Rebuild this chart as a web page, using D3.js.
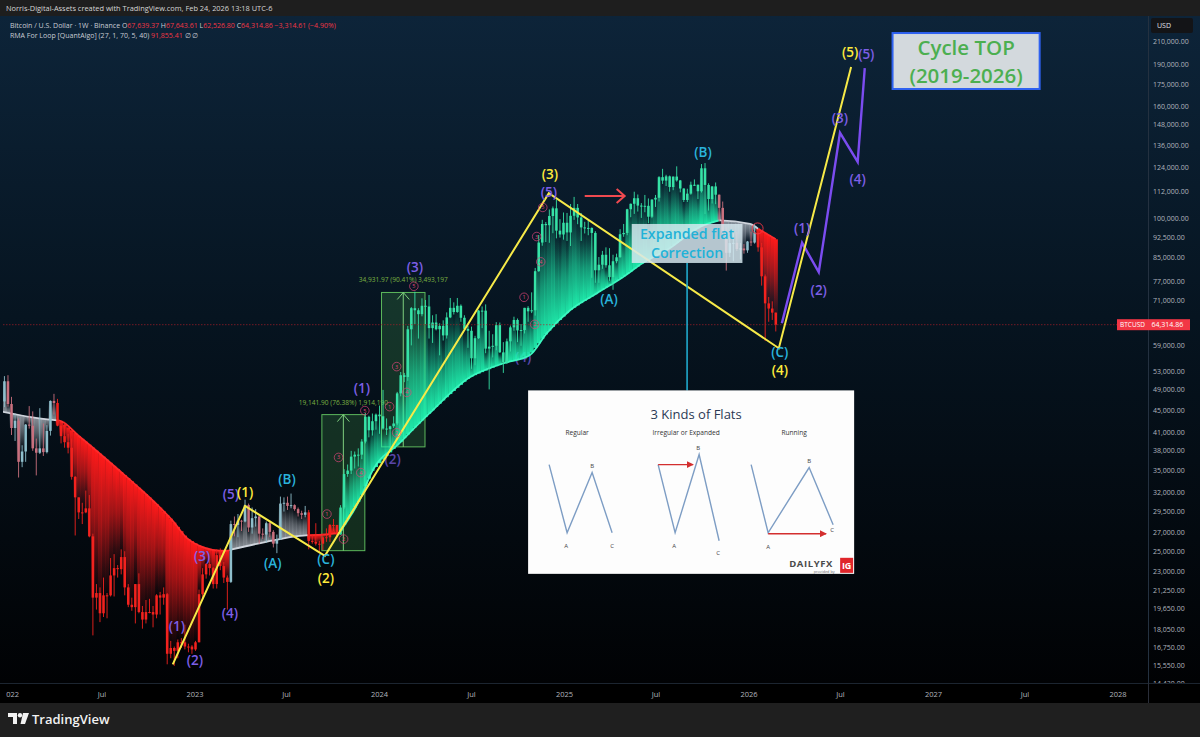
<!DOCTYPE html>
<html><head><meta charset="utf-8">
<script src="https://cdn.jsdelivr.net/npm/d3@7"></script>
<style>
html,body{margin:0;padding:0;background:#1e1e1e;overflow:hidden;}
svg{display:block;}
text{font-family:"Open Sans","Noto Sans",sans-serif;}
</style></head><body>
<svg id="c" width="1200" height="737"></svg>
<script>
// ================= DATA =================
const firstWeek = "2021-12-13"; // Monday of the first weekly candle
// weekly candles, thousands of USD: [open, high, low, close]
const weeklyOHLC = [
[50.1,50.5,45.5,46.7],[46.7,51.9,45.6,50.8],[50.8,52.1,45.7,46.2],
[46.2,47.6,40.6,41.8],[41.8,44.4,39.6,43.1],[43.1,43.5,34.0,36.3],[36.3,38.9,35.5,37.9],[37.9,42.5,36.3,42.4],
[42.4,45.8,41.7,42.2],[42.2,44.8,38.0,38.4],[38.4,40.0,34.3,37.7],[37.7,45.4,37.5,38.4],[38.4,42.6,37.2,37.8],
[37.8,42.3,37.6,41.3],[41.3,46.9,40.5,46.8],[46.8,48.2,44.2,46.4],[46.4,47.2,42.1,42.2],[42.2,42.4,39.2,40.4],
[40.4,42.9,38.5,39.4],[39.4,40.8,37.6,38.5],[38.5,40.0,33.7,34.1],[34.1,34.2,26.7,31.3],[31.3,31.3,28.6,29.4],
[29.4,30.6,28.0,29.4],[29.4,32.2,29.3,29.9],[29.9,31.6,26.5,26.6],[26.6,26.9,17.6,20.6],[20.6,21.8,19.6,21.0],
[21.0,21.5,18.6,19.3],[19.3,22.4,19.0,20.8],[20.8,21.0,18.9,20.8],[20.8,24.3,20.7,22.6],[22.6,24.7,20.7,23.3],
[23.3,23.6,22.4,23.2],[23.2,25.2,22.7,24.4],[24.4,25.0,20.8,21.5],[21.5,21.8,19.8,20.0],[20.0,20.6,19.5,19.8],
[19.8,21.8,18.5,21.8],[21.8,22.8,19.3,19.4],[19.4,19.9,18.1,18.8],[18.8,20.4,18.5,19.4],[19.4,20.5,19.3,19.4],
[19.4,19.9,18.2,19.2],[19.2,20.9,18.9,20.8],[20.8,21.1,19.2,20.6],[20.6,21.5,20.0,20.9],[20.9,21.0,15.6,16.3],
[16.3,17.2,16.0,16.7],[16.7,16.8,15.5,16.5],[16.5,17.3,16.0,17.1],[17.1,17.4,16.7,17.1],[17.1,18.4,16.6,16.8],
[16.8,17.0,16.4,16.8],[16.8,16.9,16.3,16.6],
[16.6,17.2,16.5,17.1],[17.1,21.3,17.1,20.9],[20.9,23.3,20.4,22.7],[22.7,23.8,22.3,23.7],[23.7,24.2,22.6,23.3],
[23.3,23.4,21.4,21.8],[21.8,25.2,21.4,24.6],[24.6,25.3,23.1,23.5],[23.5,23.9,21.9,22.4],[22.4,22.6,19.6,22.0],
[22.0,28.4,21.9,28.0],[28.0,28.9,26.6,27.9],[27.9,29.2,26.5,28.4],[28.4,28.5,27.2,28.3],[28.3,31.0,28.2,30.3],
[30.3,30.5,27.1,27.6],[27.6,30.0,26.9,28.7],[28.7,29.8,27.7,28.9],[28.9,29.1,25.8,26.9],[26.9,27.5,26.3,26.8],
[26.8,28.3,25.9,28.1],[28.1,28.4,26.5,27.1],[27.1,27.3,25.4,25.8],[25.8,26.8,24.8,26.3],[26.3,31.4,26.2,30.5],
[30.5,31.3,29.5,30.6],[30.6,31.4,29.7,30.2],[30.2,31.8,29.9,30.3],[30.3,30.4,29.6,29.8],[29.8,30.0,28.9,29.3],
[29.3,29.6,28.6,29.1],[29.1,30.2,28.8,29.4],[29.4,29.7,25.2,26.1],[26.1,26.8,25.8,26.0],[26.0,28.1,25.6,25.8],
[25.8,26.1,24.9,25.8],[25.8,26.9,25.1,26.5],[26.5,27.5,26.0,26.5],[26.5,28.0,26.0,27.9],[27.9,28.6,27.2,27.9],
[27.9,27.9,26.5,26.8],[26.8,30.3,26.8,30.0],[30.0,35.2,29.8,34.5],[34.5,35.9,34.1,35.0],[35.0,38.0,34.5,37.1],
[37.1,37.9,35.3,37.4],[37.4,38.4,35.6,37.4],[37.4,39.9,36.7,39.5],[39.5,44.5,39.2,43.8],[43.8,44.0,40.2,41.4],
[41.4,44.4,40.5,43.0],[43.0,44.4,41.5,44.2],
[44.2,45.9,40.8,43.9],[43.9,49.0,41.5,41.7],[41.7,43.5,40.6,41.6],[41.6,42.2,38.5,42.1],[42.1,43.9,41.8,42.6],
[42.6,48.6,42.3,48.3],[48.3,52.8,47.7,52.1],[52.1,52.6,50.6,51.7],[51.7,64.0,50.9,63.1],[63.1,69.2,59.0,68.9],
[68.9,73.8,64.5,68.3],[68.3,68.9,60.7,67.2],[67.2,71.8,66.6,69.6],[69.6,71.3,64.5,69.4],[69.4,72.8,60.7,63.4],
[63.4,66.9,59.6,64.9],[64.9,67.2,62.8,63.1],[63.1,64.7,56.6,64.0],[64.0,65.5,60.2,61.5],[61.5,67.7,60.7,66.3],
[66.3,71.9,66.1,69.0],[69.0,70.6,67.1,67.8],[67.8,71.9,67.6,69.6],[69.6,70.0,65.1,66.2],[66.2,66.9,63.0,63.2],
[63.2,64.0,58.4,62.7],[62.7,63.8,53.5,55.9],[55.9,61.4,54.3,60.8],[60.8,68.4,60.6,68.2],[68.2,69.4,63.4,68.2],
[68.2,70.0,57.1,58.2],[58.2,62.7,49.1,58.7],[58.7,61.8,56.1,58.9],[58.9,65.0,57.8,64.2],[64.2,64.9,57.2,57.3],
[57.3,59.8,52.6,54.9],[54.9,60.7,54.6,60.0],[60.0,64.1,57.5,63.6],[63.6,66.5,62.7,65.6],[65.6,66.0,59.8,62.8],
[62.8,64.5,58.9,62.9],[62.9,69.0,62.0,69.0],[69.0,69.5,65.1,68.0],[68.0,73.6,67.5,68.3],[68.3,81.5,66.8,80.4],
[80.4,93.5,80.2,90.6],[90.6,99.6,89.4,97.9],[97.9,98.7,90.8,97.4],[97.4,104.0,90.5,101.2],[101.2,105.3,94.2,104.5],
[104.5,108.4,92.2,95.2],[95.2,99.9,92.5,93.7],[93.7,102.7,91.7,98.4],
[98.4,102.5,91.2,94.5],[94.5,106.4,89.3,101.3],[101.3,109.6,99.6,104.7],[104.7,106.4,97.8,100.6],[100.6,102.5,91.2,96.5],
[96.5,98.8,94.1,96.1],[96.1,99.5,93.4,96.3],[96.3,96.5,78.2,94.3],[94.3,95.0,76.6,80.7],[80.7,85.3,76.6,82.6],
[82.6,87.5,81.2,86.1],[86.1,88.8,81.6,82.4],[82.4,88.5,77.2,78.4],[78.4,86.1,74.4,83.8],[83.8,86.5,83.1,85.2],
[85.2,95.8,85.1,93.8],[93.8,97.9,92.8,94.3],[94.3,104.3,93.4,104.1],[104.1,106.6,100.7,106.5],[106.5,112.0,102.1,109.0],
[109.0,110.7,103.1,105.7],[105.7,106.8,100.4,105.6],[105.6,110.5,102.8,105.6],[105.6,108.9,98.2,100.9],[100.9,108.5,100.3,108.4],
[108.4,110.5,105.1,109.2],[109.2,119.5,107.5,119.0],[119.0,123.2,115.7,117.3],[117.3,120.2,114.7,119.4],[119.4,119.8,112.0,114.2],
[114.2,119.3,112.7,119.3],[119.3,124.5,116.8,117.4],[117.4,117.6,111.7,113.5],[113.5,113.6,107.3,108.2],[108.2,113.4,107.3,111.1],
[111.1,116.8,110.6,115.3],[115.3,117.9,114.7,115.3],[115.3,115.4,108.6,112.2],[112.2,125.7,111.6,123.5],[123.5,126.2,102.0,115.2],
[115.2,116.0,103.5,108.6],[108.6,114.6,106.6,114.5],[114.5,116.4,106.3,110.6],[110.6,110.7,98.9,104.7],[104.7,107.5,93.0,94.5],
[94.5,96.6,80.6,86.8],[86.8,93.1,85.3,90.4],[90.4,94.2,83.8,90.5],[90.5,94.6,87.5,88.2],[88.2,90.4,84.4,88.4],
[88.4,90.0,86.5,87.7],[87.7,91.2,86.8,91.0],
[91.0,94.8,89.3,90.6],[90.6,97.9,90.2,94.5],[94.5,95.4,87.2,88.8],[88.8,90.5,75.7,78.7],[78.7,79.3,60.1,70.3],
[70.3,72.2,65.1,68.8],[68.8,70.9,65.6,67.62947],[67.63937,67.64361,62.5268,64.31486]
];

// RMA For Loop line
const rmaDates = ["2021-12-13","2022-02-14","2022-04-08","2022-05-18","2022-06-27","2022-08-05","2022-09-14","2022-10-24",
  "2022-11-18","2022-12-16","2023-01-10","2023-02-05","2023-03-04","2023-05-22","2023-07-27","2023-10-14","2023-11-23",
  "2023-12-18","2024-02-09","2024-04-08","2024-06-27","2024-09-01","2024-10-24","2024-11-27","2025-01-12","2025-03-07",
  "2025-04-27","2025-06-05","2025-07-23","2025-09-26","2025-11-04","2026-01-03","2026-02-23"];
const rmaValues = [44800,43700,43100,40300,37550,34970,32460,29980,28380,26400,25570,25150,25050,26000,26650,27000,31000,
  34970,39200,44370,51600,54700,56600,62100,68300,73400,78500,83200,87900,96700,99400,97900,91855.41];

// trend regimes of the indicator
const regimeStarts = ["2021-12-01","2022-04-04","2023-03-13","2023-08-14","2023-10-16","2025-11-03","2026-01-19"];
const regimeTypes  = ["neutral","bear","neutral","bear","bull","neutral","bear"];

// axes
const priceTicks = [210000,190000,175000,160000,148000,136000,124000,112000,100000,92500,85000,77000,71000,59000,
  53000,49000,45000,41000,38000,35000,32000,29500,27000,25000,23000,21250,19650,18050,16750,15550,14430];
const timeTickDates = ["2022-01-01","2022-07-01","2023-01-01","2023-07-01","2024-01-01","2024-07-01","2025-01-01",
  "2025-07-01","2026-01-01","2026-07-01","2027-01-01","2027-07-01","2028-01-01"];
const timeTickLabels = ["2022","Jul","2023","Jul","2024","Jul","2025","Jul","2026","Jul","2027","Jul","2028"];

// Elliott wave drawings
const yellowWaveDates  = ["2022-11-18","2023-04-10","2023-09-15","2024-12-01","2026-03-01","2026-07-22"];
const yellowWavePrices = [15600,30200,24530,111300,58300,188400];
const purpleWaveDates  = ["2026-03-07","2026-04-16","2026-05-19","2026-06-30","2026-08-04","2026-08-18"];
const purpleWavePrices = [64700,90500,80100,143200,126800,187600];

const yellowLabelDates  = ["2026-07-20","2024-12-03","2026-03-03","2023-04-10","2023-09-17"];
const yellowLabelPrices = [200500,120500,53300,32070,22350];
const yellowLabelTexts  = ["(5)","(3)","(4)","(1)","(2)"];

const purpleLabelDates  = ["2026-08-21","2026-06-30","2026-08-04","2026-04-16","2026-05-19","2024-12-01","2024-03-11",
  "2023-11-27","2023-03-13","2023-01-15","2023-03-11","2022-11-26","2023-01-01"];
const purpleLabelPrices = [198800,152200,117900,96100,74200,111800,81700,49300,31780,24530,19330,18320,15880];
const purpleLabelTexts  = ["(5)","(3)","(4)","(1)","(2)","(5)","(3)","(1)","(5)","(3)","(4)","(1)","(2)"];
const coveredLabelDates  = ["2024-01-27","2024-10-11"];
const coveredLabelPrices = [36800,56100];
const coveredLabelTexts  = ["(2)","(4)"];

const cyanLabelDates  = ["2025-10-02","2025-03-30","2026-03-03","2023-07-02","2023-06-04","2023-09-17"];
const cyanLabelPrices = [132000,71500,57400,33850,23840,24200];
const cyanLabelTexts  = ["(B)","(A)","(C)","(B)","(A)","(C)"];

// small circled sub-wave counts
const circleDates  = ["2023-09-19","2023-10-22","2023-10-12","2023-11-25","2023-12-03","2024-01-21","2024-02-04","2024-02-04",
  "2024-02-24","2024-03-09","2024-10-13","2024-11-03","2024-11-07","2024-11-15","2024-11-19"];
const circlePrices = [29190,26300,36970,34700,44950,45700,40990,54000,48500,75500,72100,64400,92900,83600,104900];
const circleTexts  = ["1","2","3","4","5","1","2","3","4","5","1","2","3","4","5"];

// price range measurements
const measureStart = ["2023-09-09","2024-01-05"];
const measureEnd   = ["2023-12-03","2024-03-31"];
const measureFrom  = [25060.10, 38637.27];
const measureTo    = [44202.00, 73569.24];

// other annotations
const arrowDates = ["2025-02-10","2025-04-30"];  const arrowPrice = 110000;
const flatBoxDates = ["2025-05-14","2025-12-19"]; const flatBoxPrices = [97900,83200];
const flatBoxLines = ["Expanded flat","Correction"];
const cycleBoxDates = ["2026-10-12","2027-07-30"]; const cycleBoxPrices = [217100,171900];
const cycleBoxLines = ["Cycle TOP","(2019-2026)"];
const insetDates = ["2024-10-21","2026-07-28"]; const insetPrices = [48900,22750];
const lastRMA = 91855.41;

// ================= DRAW =================
const parse = d3.utcParse("%Y-%m-%d");
const svg = d3.select("#c");
const PT = 16, PB = 683, PR = 1148;
const x = d3.scaleUtc().domain([parse("2022-01-01"), parse("2028-01-01")]).range([10.5, 1118]);
const y = d3.scaleLog().domain([14430, 210000]).range([683, 41]);
const fmt2 = d3.format(",.2f");

const defs = svg.append("defs");
const bg = defs.append("linearGradient").attr("id","bg").attr("x1",0).attr("x2",0).attr("y1",0).attr("y2",1);
bg.append("stop").attr("offset","0%").attr("stop-color","#0d2439");
bg.append("stop").attr("offset","45%").attr("stop-color","#061420");
bg.append("stop").attr("offset","100%").attr("stop-color","#010204");
defs.append("clipPath").attr("id","plot").append("rect").attr("x",3).attr("y",PT).attr("width",PR-3).attr("height",PB-PT);

const fillCols = {bear:"#ff1a1a", bull:"#1ff3b0", neutral:"#dde2ea"};
const fillOp = {bear:1, bull:0.95, neutral:0.6};
const lineCols = {bear:"#ff2b2b", bull:"#3cf7c0", neutral:"#cfd4dc"};
Object.keys(fillCols).forEach(t => {
  ["down","up"].forEach(dir => {
    const g = defs.append("linearGradient").attr("id",`g-${t}-${dir}`)
      .attr("x1",0).attr("x2",0).attr("y1",dir==="down"?0:1).attr("y2",dir==="down"?1:0);
    g.append("stop").attr("offset","0%").attr("stop-color",fillCols[t]).attr("stop-opacity",fillOp[t]);
    g.append("stop").attr("offset","45%").attr("stop-color",fillCols[t]).attr("stop-opacity",fillOp[t]*0.6);
    g.append("stop").attr("offset","80%").attr("stop-color",fillCols[t]).attr("stop-opacity",fillOp[t]*0.18);
    g.append("stop").attr("offset","100%").attr("stop-color",fillCols[t]).attr("stop-opacity",0);
  });
});
const mk = defs.append("marker").attr("id","redArrowSmall").attr("viewBox","0 0 10 10").attr("refX",9).attr("refY",5)
  .attr("markerWidth",5).attr("markerHeight",5).attr("orient","auto");
mk.append("path").attr("d","M0,0L10,5L0,10Z").attr("fill","#d32f2f");

// backgrounds
svg.append("rect").attr("width",1200).attr("height",737).attr("fill","#1e1e1e");
svg.append("rect").attr("x",0).attr("y",PT).attr("width",1200).attr("height",PB-PT).attr("fill","url(#bg)");

const plot = svg.append("g").attr("clip-path","url(#plot)");

// data prep
const start = parse(firstWeek);
const candles = weeklyOHLC.map((r,i) => ({d:d3.utcMonday.offset(start,i), o:r[0]*1000, h:r[1]*1000, l:r[2]*1000, c:r[3]*1000}));
const regStarts = regimeStarts.map(parse);
function regimeOf(d){ let t = regimeTypes[0]; regStarts.forEach((s,i)=>{ if(d>=s) t = regimeTypes[i]; }); return t; }
const rmaD = rmaDates.map(parse);
const rmaAt = d3.scaleUtc().domain(rmaD).range(rmaValues).clamp(true);
const barW = x(d3.utcMonday.offset(start,1)) - x(start);

function drawLabels(g, dates, prices, texts, color, size, op){
  g.selectAll(null).data(texts).join("text")
    .attr("x",(t,i)=>x(parse(dates[i]))).attr("y",(t,i)=>y(prices[i]))
    .attr("text-anchor","middle").attr("dominant-baseline","central")
    .attr("font-size",size).attr("font-weight",600).attr("fill",color).attr("opacity",op)
    .text(t=>t);
}
// labels partly hidden under the indicator fill
drawLabels(plot, coveredLabelDates, coveredLabelPrices, coveredLabelTexts, "#7d5fe6", 13.5, 0.7);

// measurement boxes
measureFrom.forEach((f,i) => {
  const x0 = x(parse(measureStart[i])), x1 = x(parse(measureEnd[i]));
  const yTop = y(measureTo[i]), yBot = y(f), cx = (x0+x1)/2;
  const g = plot.append("g");
  g.append("rect").attr("x",x0).attr("y",yTop).attr("width",x1-x0).attr("height",yBot-yTop)
    .attr("fill","rgba(76,175,80,0.22)").attr("stroke","#5cb85c").attr("stroke-width",1);
  g.append("line").attr("x1",cx).attr("x2",cx).attr("y1",yBot).attr("y2",yTop).attr("stroke","#7fcf7f").attr("stroke-width",1);
  g.append("path").attr("d",`M${cx-6},${yTop+7}L${cx},${yTop}L${cx+6},${yTop+7}`).attr("fill","none").attr("stroke","#7fcf7f").attr("stroke-width",1);
  const diff = measureTo[i]-f;
  g.append("text").attr("x",cx).attr("y",yTop-10).attr("text-anchor","middle").attr("font-size",6.6).attr("fill","#7cb342")
    .text(`${fmt2(diff)} (${(diff/f*100).toFixed(2)}%) ${d3.format(",")(Math.round(diff*100))}`);
});

// indicator fill between RMA and price
plot.append("g").selectAll("rect").data(candles).join("rect")
  .each(function(c){
    const r = rmaAt(c.d), yr = y(r), yc = y(c.c), t = regimeOf(c.d);
    const sel = d3.select(this);
    const hgt = Math.abs(yc-yr);
    if (hgt < 0.6) { sel.attr("display","none"); return; }
    sel.attr("x", x(c.d)-barW/2).attr("width", barW+0.3)
      .attr("y", Math.min(yr,yc)).attr("height", hgt)
      .attr("fill", `url(#g-${t}-${yr<yc?"down":"up"})`);
  });

// RMA line by regime
const rmaLine = d3.line().x(p=>x(p[0])).y(p=>y(p[1])).curve(d3.curveMonotoneX);
regStarts.forEach((s,i) => {
  const e = regStarts[i+1] || rmaD[rmaD.length-1];
  const s2 = s < rmaD[0] ? rmaD[0] : s;
  const pts = [[s2, rmaAt(s2)]];
  rmaD.forEach((d,k) => { if (d > s2 && d < e) pts.push([d, rmaValues[k]]); });
  pts.push([e, rmaAt(e)]);
  plot.append("path").attr("d",rmaLine(pts)).attr("fill","none").attr("stroke",lineCols[regimeTypes[i]]).attr("stroke-width",1.8);
});

// candles
function candleColor(c){
  const t = regimeOf(c.d);
  if (t==="bull") return "#36e2a6";
  if (t==="bear") return "#f2221e";
  return c.c >= c.o ? "#8fbfcc" : "#c9707e";
}
const cg = plot.append("g");
cg.selectAll("line").data(candles).join("line")
  .attr("x1",c=>x(c.d)).attr("x2",c=>x(c.d)).attr("y1",c=>y(c.h)).attr("y2",c=>y(c.l))
  .attr("stroke",candleColor).attr("stroke-width",0.9);
cg.selectAll("rect").data(candles).join("rect")
  .attr("x",c=>x(c.d)-barW*0.36).attr("width",barW*0.72)
  .attr("y",c=>y(Math.max(c.o,c.c))).attr("height",c=>Math.max(1,y(Math.min(c.o,c.c))-y(Math.max(c.o,c.c))))
  .attr("fill",candleColor);

// last price line
const lastC = candles[candles.length-1], prevC = candles[candles.length-2];
plot.append("line").attr("x1",0).attr("x2",PR).attr("y1",y(lastC.c)).attr("y2",y(lastC.c))
  .attr("stroke","#b3202a").attr("stroke-width",0.8).attr("stroke-dasharray","1.5,1.5").attr("opacity",0.8);

// wave lines
const wl = d3.line().x(p=>x(parse(p[0]))).y(p=>y(p[1]));
plot.append("path").attr("d",wl(purpleWaveDates.map((d,i)=>[d,purpleWavePrices[i]])))
  .attr("fill","none").attr("stroke","#7b4cf0").attr("stroke-width",2.4).attr("stroke-linejoin","miter");
plot.append("path").attr("d",wl(yellowWaveDates.map((d,i)=>[d,yellowWavePrices[i]])))
  .attr("fill","none").attr("stroke","#f7ea48").attr("stroke-width",2);

// red arrow
{
  const ax0 = x(parse(arrowDates[0])), ax1 = x(parse(arrowDates[1])), ay = y(arrowPrice);
  plot.append("line").attr("x1",ax0).attr("x2",ax1).attr("y1",ay).attr("y2",ay).attr("stroke","#f04a50").attr("stroke-width",2);
  plot.append("path").attr("d",`M${ax1-8},${ay-7}L${ax1},${ay}L${ax1-8},${ay+7}`).attr("fill","none").attr("stroke","#f04a50").attr("stroke-width",2);
}

// circled sub-wave numbers
const circ = plot.append("g").selectAll("g").data(circleTexts).join("g")
  .attr("transform",(t,i)=>`translate(${x(parse(circleDates[i]))},${y(circlePrices[i])})`);
circ.append("circle").attr("r",4.3).attr("fill","none").attr("stroke","#e0457b").attr("stroke-width",0.8).attr("opacity",0.85);
circ.append("text").attr("text-anchor","middle").attr("dominant-baseline","central").attr("font-size",5.5)
  .attr("fill","#e0457b").text(t=>t);
plot.append("circle").attr("cx",x(parse("2026-01-18"))).attr("cy",y(96100)).attr("r",5.5)
  .attr("fill","none").attr("stroke","#f23645").attr("stroke-width",0.9);

// wave labels
drawLabels(plot, purpleLabelDates, purpleLabelPrices, purpleLabelTexts, "#7d5fe6", 13.5, 1);
drawLabels(plot, yellowLabelDates, yellowLabelPrices, yellowLabelTexts, "#ffeb3b", 13.5, 1);
drawLabels(plot, cyanLabelDates, cyanLabelPrices, cyanLabelTexts, "#2ab4dc", 13.5, 1);

// multi-line note helper (one text element, one tspan per line)
function multiLine(g, cx, top, lines, size, gap, color){
  const t = g.append("text").attr("x",cx).attr("y",top).attr("text-anchor","middle")
    .attr("font-size",size).attr("font-weight",600).attr("fill",color);
  lines.forEach((l,i) => t.append("tspan").attr("x",cx).attr("dy", i===0 ? 0 : gap).text(l));
}

// Expanded flat box + connector
{
  const bx0 = x(parse(flatBoxDates[0])), bx1 = x(parse(flatBoxDates[1]));
  const by0 = y(flatBoxPrices[0]), by1 = y(flatBoxPrices[1]);
  const cx = (bx0+bx1)/2;
  plot.append("line").attr("x1",cx).attr("x2",cx).attr("y1",by1).attr("y2",y(insetPrices[0]))
    .attr("stroke","#22b3d8").attr("stroke-width",1.5);
  plot.append("rect").attr("x",bx0).attr("y",by0).attr("width",bx1-bx0).attr("height",by1-by0)
    .attr("fill","rgba(214,232,240,0.84)");
  multiLine(plot, cx, by0+15, flatBoxLines, 14.2, 19.5, "#1fb2d8");
}

// Inset picture: 3 Kinds of Flats
{
  const ix0 = x(parse(insetDates[0])), ix1 = x(parse(insetDates[1]));
  const iy0 = y(insetPrices[0]), iy1 = y(insetPrices[1]);
  const ix = d3.scaleLinear().domain([0,326]).range([ix0,ix1]);
  const iy = d3.scaleLinear().domain([0,183]).range([iy0,iy1]);
  const g = plot.append("g");
  g.append("rect").attr("x",ix0).attr("y",iy0).attr("width",ix1-ix0).attr("height",iy1-iy0).attr("fill","#fdfdfd");
  g.append("text").attr("x",ix(168)).attr("y",iy(29)).attr("text-anchor","middle").attr("font-size",13)
    .attr("font-family","'Liberation Sans',sans-serif").attr("fill","#2b3954").text("3 Kinds of Flats");
  const subs = [["Regular",49],["Irregular or Expanded",158],["Running",266]];
  g.selectAll(".sub").data(subs).join("text").attr("x",d=>ix(d[1])).attr("y",iy(44.5)).attr("text-anchor","middle")
    .attr("font-size",6.6).attr("fill","#333").text(d=>d[0]);
  const pats = [
    {pts:[[21,74],[39,142],[64,82],[84,142]], lab:[["A",38,155],["B",64,75],["C",84,155]]},
    {pts:[[130,74],[147,142],[171,64],[191,150]], lab:[["A",146,155],["B",170,57],["C",190,162]], arr:[[130,74],[165,74]]},
    {pts:[[223,74],[240,142],[281,77],[305,134]], lab:[["A",240,156],["B",281,70],["C",304,139]], arr:[[240,143],[298,143]]}
  ];
  const pl = d3.line().x(p=>ix(p[0])).y(p=>iy(p[1]));
  pats.forEach(p => {
    g.append("path").attr("d",pl(p.pts)).attr("fill","none").attr("stroke","#7d9dc4").attr("stroke-width",1.4);
    if (p.arr) g.append("path").attr("d",pl(p.arr)).attr("stroke","#d32f2f").attr("stroke-width",1.4).attr("marker-end","url(#redArrowSmall)");
    p.lab.forEach(l => g.append("text").attr("x",ix(l[1])).attr("y",iy(l[2])).attr("text-anchor","middle")
      .attr("dominant-baseline","central").attr("font-size",6).attr("fill","#444").text(l[0]));
  });
  g.append("text").attr("x",ix(283)).attr("y",iy(176)).attr("text-anchor","middle").attr("font-size",9.5).attr("font-weight",700)
    .attr("letter-spacing",0.6).attr("fill","#4a4a4a").text("DAILYFX");
  g.append("text").attr("x",ix(296)).attr("y",iy(182)).attr("text-anchor","middle").attr("font-size",3.8).attr("fill","#666").text("provided by");
  g.append("rect").attr("x",ix(312)).attr("y",iy(167)).attr("width",ix(325)-ix(312)).attr("height",iy(182)-iy(167)).attr("fill","#e0262b");
  g.append("text").attr("x",ix(318.5)).attr("y",iy(178.5)).attr("text-anchor","middle").attr("font-size",9).attr("font-weight",700)
    .attr("fill","#fff").text("IG");
}

// Cycle TOP box
{
  const bx0 = x(parse(cycleBoxDates[0])), bx1 = x(parse(cycleBoxDates[1]));
  const by0 = y(cycleBoxPrices[0]), by1 = y(cycleBoxPrices[1]);
  plot.append("rect").attr("x",bx0).attr("y",by0).attr("width",bx1-bx0).attr("height",by1-by0)
    .attr("fill","#d3d9dd").attr("stroke","#2f62f0").attr("stroke-width",2);
  multiLine(plot, (bx0+bx1)/2, by0+22, cycleBoxLines, 20.5, 28, "#4caf50");
}

// ===== right price axis =====
svg.append("line").attr("x1",PR+0.5).attr("x2",PR+0.5).attr("y1",PT).attr("y2",703).attr("stroke","#243140").attr("stroke-width",1);
svg.append("g").selectAll("text").data(priceTicks).join("text")
  .attr("x",1153).attr("y",p=>y(p)).attr("dominant-baseline","central").attr("font-size",7)
  .attr("fill","#b2b5be").text(p=>fmt2(p));
svg.append("rect").attr("x",1151).attr("y",18).attr("width",42).attr("height",15).attr("rx",2).attr("fill","#131417");
svg.append("text").attr("x",1157).attr("y",25.5).attr("dominant-baseline","central").attr("font-size",7).attr("fill","#e0e3eb").text("USD");
{
  const ty = y(lastC.c);
  svg.append("rect").attr("x",1117).attr("y",ty-5.5).attr("width",31).attr("height",11).attr("fill","#f23645");
  svg.append("text").attr("x",1132.5).attr("y",ty).attr("text-anchor","middle").attr("dominant-baseline","central")
    .attr("font-size",6.5).attr("fill","#fff").text("BTCUSD");
  svg.append("rect").attr("x",1148).attr("y",ty-5.5).attr("width",42).attr("height",11).attr("fill","#f23645");
  svg.append("text").attr("x",1151.5).attr("y",ty).attr("dominant-baseline","central")
    .attr("font-size",7).attr("fill","#fff").text(fmt2(lastC.c));
}

// ===== bottom time axis =====
svg.append("rect").attr("x",0).attr("y",PB).attr("width",1200).attr("height",20).attr("fill","#000");
svg.append("line").attr("x1",0).attr("x2",1200).attr("y1",PB+0.5).attr("y2",PB+0.5).attr("stroke","#1c2530");
svg.append("line").attr("x1",PR+0.5).attr("x2",PR+0.5).attr("y1",PB).attr("y2",703).attr("stroke","#2a2e39");
defs.append("clipPath").attr("id","xax").append("rect").attr("x",6).attr("y",PB).attr("width",PR-6).attr("height",20);
svg.append("g").attr("clip-path","url(#xax)").selectAll("text").data(timeTickLabels).join("text")
  .attr("x",(t,i)=>x(parse(timeTickDates[i]))).attr("y",694).attr("text-anchor","middle").attr("dominant-baseline","central")
  .attr("font-size",7.5).attr("fill","#b2b5be").text(t=>t);

// ===== header =====
svg.append("rect").attr("x",0).attr("y",0).attr("width",1200).attr("height",PT).attr("fill","#1e1e1e");
svg.append("text").attr("x",6).attr("y",10.5).attr("font-size",7.4).attr("fill","#d6d6d6")
  .text("Norris-Digital-Assets created with TradingView.com, Feb 24, 2026 13:18 UTC-6");
{
  const red = "#f23645", grey = "#c9ccd4";
  const chg = lastC.c - prevC.c;
  const t1 = svg.append("text").attr("x",10).attr("y",27.5).attr("font-size",7).attr("fill",grey);
  t1.append("tspan").text("Bitcoin / U.S. Dollar · 1W · Binance  O");
  t1.append("tspan").attr("fill",red).text(fmt2(lastC.o));
  t1.append("tspan").text(" H");
  t1.append("tspan").attr("fill",red).text(fmt2(lastC.h));
  t1.append("tspan").text(" L");
  t1.append("tspan").attr("fill",red).text(fmt2(lastC.l));
  t1.append("tspan").text(" C");
  t1.append("tspan").attr("fill",red).text(fmt2(lastC.c) + " " + fmt2(chg).replace("-","−") + " (" + (chg/prevC.c*100).toFixed(2).replace("-","−") + "%)");
  const t2 = svg.append("text").attr("x",10).attr("y",37.5).attr("font-size",7).attr("fill",grey);
  t2.append("tspan").text("RMA For Loop [QuantAlgo] (27, 1, 70, 5, 40)  ");
  t2.append("tspan").attr("fill",red).text(fmt2(lastRMA));
  t2.append("tspan").text("  ∅  ∅");
}

// ===== footer =====
svg.append("rect").attr("x",0).attr("y",703).attr("width",1200).attr("height",34).attr("fill","#1f1f1f");
{
  const g = svg.append("g").attr("fill","#f2f2f2");
  g.append("path").attr("d","M8,713H17V724H13V717H8Z");
  g.append("circle").attr("cx",20).attr("cy",715.2).attr("r",2.2);
  g.append("path").attr("d","M23,713H29L25,724H20.5Z");
  g.append("text").attr("x",32).attr("y",723.5).attr("font-size",13).attr("font-weight",600)
    .attr("font-family","Inter,'Open Sans',sans-serif").attr("fill","#f2f2f2").text("TradingView");
}
</script>
</body></html>
